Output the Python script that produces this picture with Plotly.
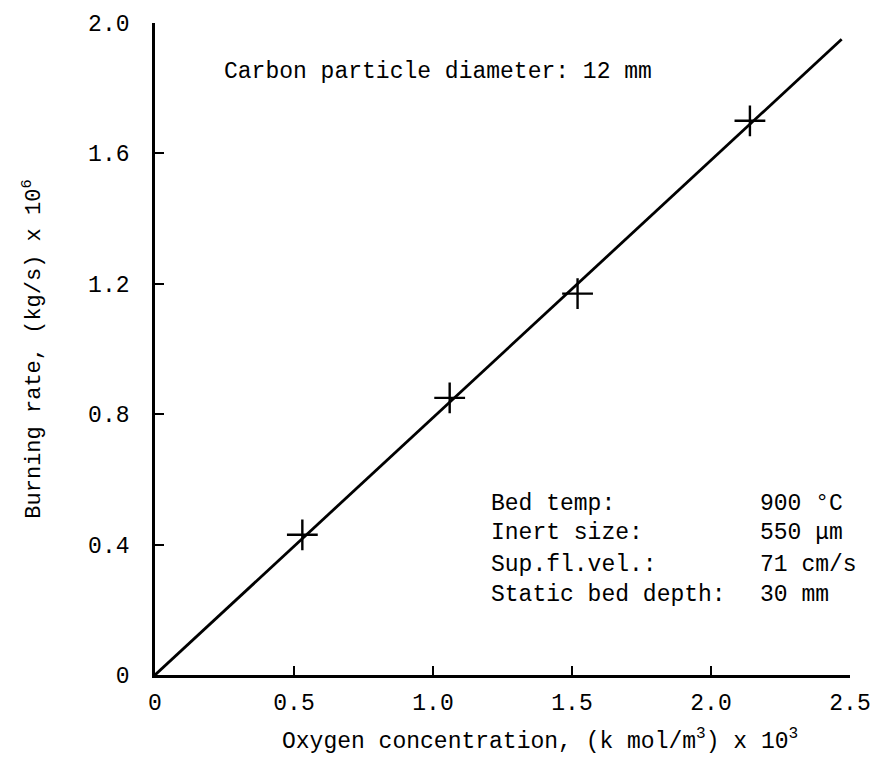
import plotly.graph_objects as go

# data
conc = [0.53, 1.06, 1.52, 2.14]          # oxygen concentration (k mol/m3) x 10^3
rate = [0.43, 0.85, 1.17, 1.70]          # burning rate (kg/s) x 10^6
fit_x = [0.0, 2.47]
fit_y = [0.0, 1.95]

x_ticks = [0, 0.5, 1.0, 1.5, 2.0, 2.5]
x_labels = ["0", "0.5", "1.0", "1.5", "2.0", "2.5"]
y_ticks = [0, 0.4, 0.8, 1.2, 1.6, 2.0]
y_labels = ["0", "0.4", "0.8", "1.2", "1.6", "2.0"]

info_keys = ["Bed temp:", "Inert size:", "Sup.fl.vel.:", "Static bed depth:"]
info_vals = ["900 °C", "550 μm", "71 cm/s", "30 mm"]

FONT = "Liberation Mono"
FS = 23

fig = go.Figure()
fig.add_trace(go.Scatter(x=fit_x, y=fit_y, mode="lines",
                         line=dict(color="black", width=2.8), showlegend=False))
fig.add_trace(go.Scatter(x=conc, y=rate, mode="markers",
                         marker=dict(symbol="cross-thin", size=22,
                                     line=dict(color="black", width=2.4)),
                         showlegend=False))

fig.add_annotation(x=0.24, y=1.85, xref="x", yref="y", text="Carbon particle diameter: 12 mm",
                   showarrow=False, xanchor="left", yanchor="middle",
                   font=dict(family=FONT, size=FS, color="black"))

rows_y = [0.525, 0.435, 0.337, 0.245]
for k, v, yy in zip(info_keys, info_vals, rows_y):
    fig.add_annotation(x=1.2, y=yy, xref="x", yref="y", text=k, showarrow=False,
                       xanchor="left", yanchor="middle",
                       font=dict(family=FONT, size=FS, color="black"))
    fig.add_annotation(x=2.17, y=yy, xref="x", yref="y", text=v, showarrow=False,
                       xanchor="left", yanchor="middle",
                       font=dict(family=FONT, size=FS, color="black"))

# x axis title placed as in the scan (slightly right of centre)
fig.add_annotation(x=0.45, y=-0.10, xref="x", yref="paper",
                   text="Oxygen concentration, (k mol/m<sup>3</sup>) x 10<sup>3</sup>",
                   showarrow=False, xanchor="left", yanchor="middle",
                   font=dict(family=FONT, size=FS, color="black"))

fig.update_xaxes(range=[0, 2.5], tickvals=x_ticks, ticktext=x_labels,
                 showline=True, linecolor="black", linewidth=2.8,
                 ticks="inside", ticklen=9, tickwidth=2, tickcolor="black",
                 showgrid=False, zeroline=False, ticklabelstandoff=4,
                 tickfont=dict(family=FONT, size=FS, color="black"))
fig.update_yaxes(range=[0, 2.0], tickvals=y_ticks, ticktext=y_labels,
                 showline=True, linecolor="black", linewidth=2.8,
                 ticks="inside", ticklen=9, tickwidth=2, tickcolor="black",
                 showgrid=False, zeroline=False, ticklabelstandoff=18,
                 tickfont=dict(family=FONT, size=FS, color="black"),
                 title=dict(text="Burning rate, (kg/s) x 10<sup>6</sup>",
                            font=dict(family=FONT, size=22, color="black"), standoff=42))

fig.update_layout(width=883, height=764,
                  margin=dict(l=155, r=29, t=20, b=89),
                  paper_bgcolor="white", plot_bgcolor="white")

fig.write_html("out.html")
